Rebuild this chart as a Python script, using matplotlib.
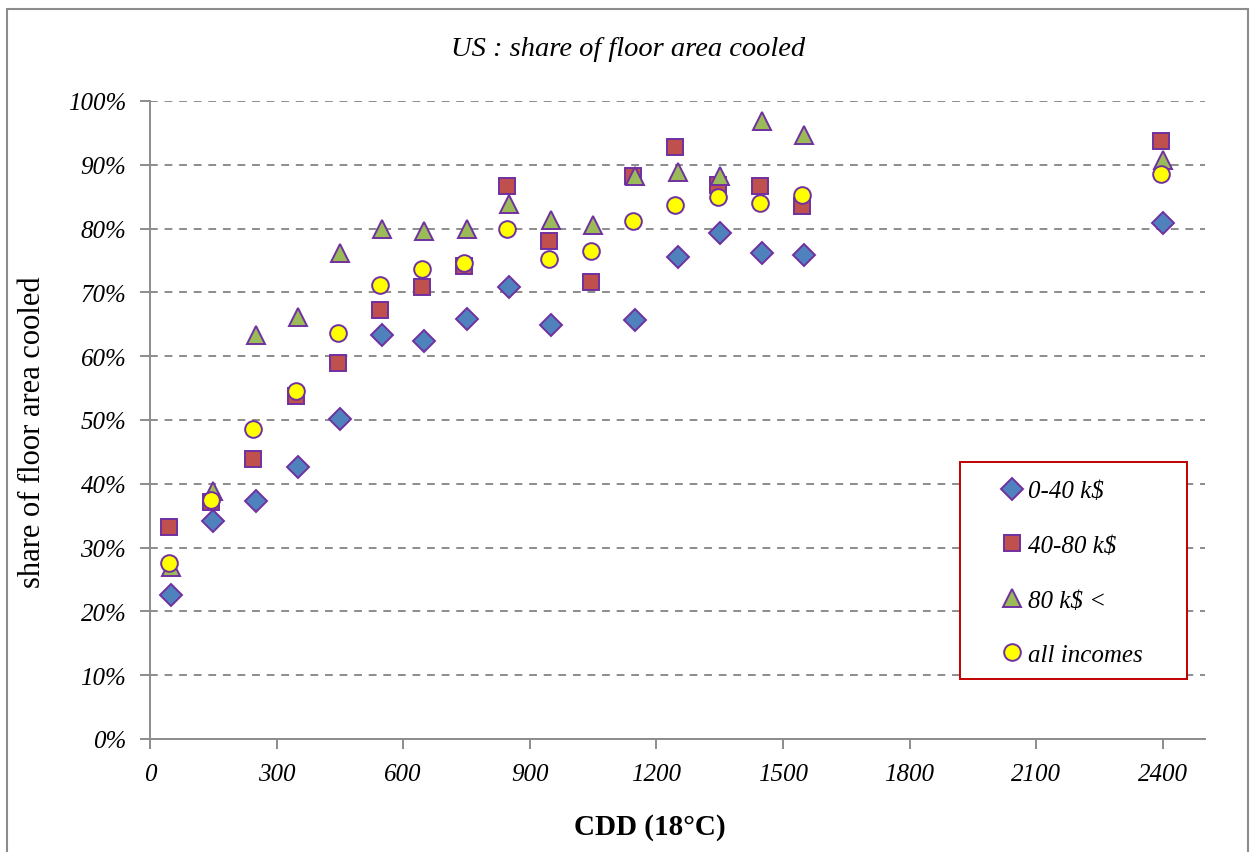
import matplotlib
matplotlib.use("Agg")
import matplotlib.pyplot as plt
from matplotlib.patches import Rectangle
from matplotlib.ticker import FuncFormatter

# CDD bins (diamonds/triangles sit a little right of squares/circles)
cdd_a = [50, 150, 250, 350, 450, 550, 650, 750, 850, 950, 1150, 1250, 1350, 1450, 1550, 2400]
cdd_b = [45, 145, 245, 345, 445, 545, 645, 745, 845, 945, 1045, 1145, 1245, 1345, 1445, 1545, 2395]
cdd_c = [50, 150, 250, 350, 450, 550, 650, 750, 850, 950, 1050, 1150, 1250, 1350, 1450, 1550, 2400]

low = [22.5, 34.1, 37.3, 42.7, 50.2, 63.3, 62.4, 65.8, 70.9, 64.9, 65.6, 75.5, 79.3, 76.2, 75.9, 80.9]
mid = [33.2, 37.1, 43.9, 53.8, 59.0, 67.2, 70.8, 74.1, 86.6, 78.1, 71.6, 88.2, 92.8, 86.8, 86.6, 83.5, 93.8]
high = [26.9, 38.8, 63.3, 66.1, 76.1, 79.9, 79.6, 79.9, 83.9, 81.4, 80.5, 88.3, 88.9, 88.3, 96.8, 94.7, 90.8]
allinc = [27.6, 37.4, 48.6, 54.5, 63.7, 71.1, 73.7, 74.6, 79.9, 75.2, 76.5, 81.2, 83.7, 85.0, 84.0, 85.3, 88.5]

labels = ["0-40 k$", "40-80 k$", "80 k$ <", "all incomes"]

serif = ["Liberation Serif", "DejaVu Serif"]
edge = "#7030a0"
grey = "#8c8c8c"

W, H = 1253, 853
fig = plt.figure(figsize=(W / 100, H / 100), dpi=100)
ax = fig.add_axes([150 / W, 113 / H, 1055 / W, 638 / H])

def px_ax(x, y):
    # pixel position in the picture -> axes fraction
    return (x - 150) / 1055, (740 - y) / 638

# outer chart frame
fig.patches.append(Rectangle((7 / W, -0.05), 1241 / W, (843 / H) + 0.05,
                             transform=fig.transFigure, fill=False,
                             edgecolor=grey, linewidth=1.5))

ms = 12
mew = 1.4
ax.plot(cdd_a, [v / 100 for v in low], "D", ms=ms * 0.9, mfc="#4f81bd", mec=edge, mew=mew,
        label=labels[0], zorder=3)
ax.plot(cdd_b, [v / 100 for v in mid], "s", ms=ms, mfc="#c0504d", mec=edge, mew=mew,
        label=labels[1], zorder=3)
ax.plot(cdd_c, [v / 100 for v in high], "^", ms=ms * 1.05, mfc="#9bbb59", mec=edge, mew=mew,
        label=labels[2], zorder=3)
ax.plot(cdd_b, [v / 100 for v in allinc], "o", ms=ms, mfc="#ffff00", mec=edge, mew=mew,
        label=labels[3], zorder=3)

ax.set_xlim(0, 2500)
ax.set_ylim(0, 1.0)
ax.set_xticks(range(0, 2401, 300))
ax.set_yticks([i / 10 for i in range(11)])
ax.yaxis.set_major_formatter(FuncFormatter(lambda v, p: f"{v * 100:.0f}%"))

ax.grid(axis="y", linestyle=(0, (4, 3.5)), color=grey, linewidth=1.4)
ax.set_axisbelow(True)
for s in ["top", "right"]:
    ax.spines[s].set_visible(False)
for s in ["left", "bottom"]:
    ax.spines[s].set_color(grey)
    ax.spines[s].set_linewidth(1.4)
ax.tick_params(axis="both", color=grey, width=1.4, length=7)
ax.tick_params(axis="y", pad=10)
ax.tick_params(axis="x", pad=10)
for t in ax.get_xticklabels() + ax.get_yticklabels():
    t.set_family(serif)
    t.set_style("italic")
    t.set_fontsize(18)

fig.text(628 / W, 1 - 50 / H, "US : share of floor area cooled", family=serif,
         style="italic", fontsize=20.5, ha="center", va="center")
fig.text(33 / W, 1 - 432 / H, "share of floor area cooled", family=serif,
         fontsize=22, rotation=90, ha="center", va="center")
fig.text(650 / W, 1 - 828 / H, "CDD (18°C)", family=serif, weight="bold",
         fontsize=21, ha="center", va="center")

# legend box drawn separately so the marker/text placement can follow the reference
bx, by = px_ax(960, 680)
ax.add_patch(Rectangle((bx, by), 227 / 1055, 217 / 638, transform=ax.transAxes,
                       facecolor="white", edgecolor="#c00000", linewidth=1.4,
                       zorder=4, clip_on=False))
lx, ly = px_ax(999, 481)
leg = ax.legend(loc="upper left", bbox_to_anchor=(lx, ly),
                prop={"family": serif, "style": "italic", "size": 18},
                frameon=False, borderpad=0, labelspacing=1.28,
                handletextpad=0.15, handlelength=1.0, borderaxespad=0)
leg.set_zorder(5)

fig.savefig("out.png", dpi=100)
